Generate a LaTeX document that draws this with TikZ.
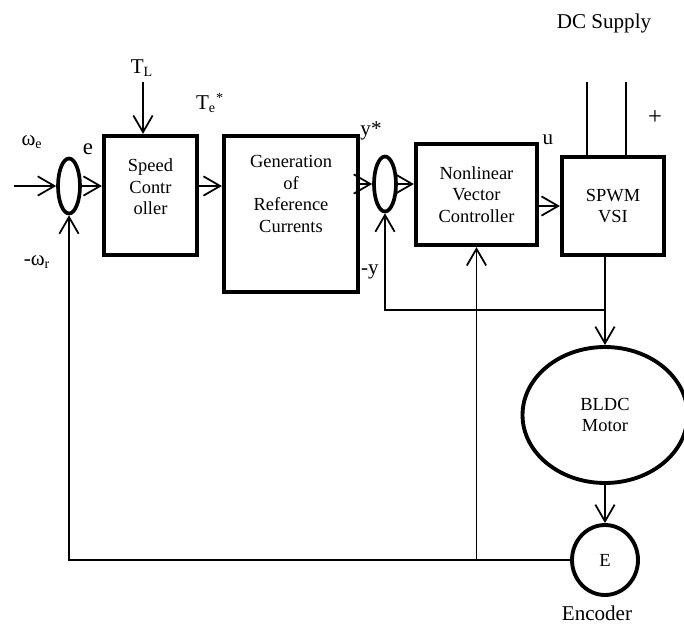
\documentclass[tikz,border=0pt]{standalone}
\usepackage{fontspec}
\setmainfont{Liberation Serif}
\usetikzlibrary{shapes.geometric,arrows.meta,positioning}

\begin{document}
\begin{tikzpicture}[x=0.02cm, y=-0.02cm, font=\fontsize{12}{14}\selectfont,
  box/.style={draw,line width=2.4pt,inner sep=0pt,align=center,font=\fontsize{10.5}{12.3}\selectfont},
  blk/.style={align=center,font=\fontsize{10.5}{12.3}\selectfont},
  sum/.style={draw,ellipse,line width=2.1pt,inner sep=0pt,minimum width=0.44cm,minimum height=1.1cm},
  arr/.style={line width=1pt,-{Straight Barb[length=9.5pt,width=11pt]}},
  wire/.style={line width=1pt}
]
  \useasboundingbox (0,0) rectangle (684,626);

  % blocks
  \node[sum] (sum1) at (69,186) {};
  \node[box, minimum width=1.86cm, minimum height=2.38cm] (speed) at (150.5,195.5) {};
  \node[blk] at ([yshift=0.17cm]speed.center) {Speed\\Contr\\oller};
  \node[box, minimum width=2.68cm, minimum height=3.12cm] (gen) at (291,214) {};
  \node[blk] at ([yshift=0.4cm]gen.center) {Generation\\of\\Reference\\Currents};
  \node[sum] (sum2) at (385,184) {};
  \node[box, minimum width=2.42cm, minimum height=2.02cm] (nvc) at (476.5,194.5) {Nonlinear\\Vector\\Controller};
  \node[box, minimum width=2.04cm, minimum height=1.96cm] (spwm) at (613,206) {SPWM\\VSI};
  \node[draw, ellipse, line width=2.2pt, inner sep=0pt, minimum width=3.3cm, minimum height=2.72cm, blk] (motor) at (605,415) {BLDC\\Motor};
  \node[draw, ellipse, line width=2.2pt, inner sep=0pt, minimum width=1.32cm, minimum height=1.4cm, blk] (enc) at (605,560) {E};

  % labels
  \node (dcsup) at (604,23) {DC Supply};
  \node (plus) at (655,118) {\fontsize{14}{16}\selectfont +};
  \node (we) at (32,142) {ω\textsubscript{e}};
  \node (lbe) at (88,149) {\fontsize{13}{14}\selectfont e};
  \node (tl) at (142,68) {T\textsubscript{L}};
  \node (te) at (210,103) {T\textsubscript{e}\textsuperscript{*}};
  \node (ystar) at (371,131) {y*};
  \node (ym) at (370,272) {-y};
  \node (lbu) at (548,140) {u};
  \node (wr) at (37,262) {-ω\textsubscript{r}};
  \node (encl) at (597,613) {Encoder};

  \coordinate (in) at (14,186);
  \coordinate (tlin) at (143,82);
  \coordinate (dcp) at (587,82);
  \coordinate (dcn) at (626,82);
  \coordinate (fb) at (605,310);

  % forward path
  \draw[arr] (in) -- (sum1.west);
  \draw[arr] (sum1.east) -- (sum1.east -| speed.west);
  \draw[arr] (tlin) -- (tlin |- speed.north);
  \draw[arr] (sum1.east -| speed.east) -- (sum1.east -| gen.west);
  \draw[arr] (sum2.west -| gen.east) -- (sum2.west);
  \draw[arr] (sum2.east) -- (sum2.east -| nvc.west);
  \draw[arr] (spwm.west -| nvc.east) -- (spwm.west);
  \draw[wire] (dcp) -- (dcp |- spwm.north);
  \draw[wire] (dcn) -- (dcn |- spwm.north);
  \draw[arr] (spwm.south -| motor.north) -- (motor.north);
  \draw[arr] (motor.south) -- (enc.north);

  % feedback
  \draw[arr] (fb) -| (sum2.south);
  \draw[arr] (enc.west) -| (sum1.south);
  \draw[arr] (enc.west -| nvc.south) -- (nvc.south);
\end{tikzpicture}
\end{document}
